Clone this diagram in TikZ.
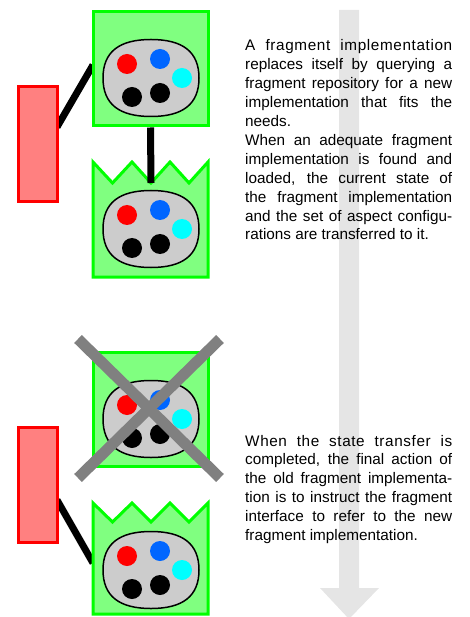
\documentclass[tikz,border=0pt]{standalone}
\usepackage{fontspec}
\setmainfont{Liberation Sans}
\newcommand\spreadline[1]{{\addfontfeature{LetterSpace=4}#1}}
\begin{document}
\begin{tikzpicture}[x=1pt,y=-1pt,
  fragbox/.style={draw=fgreen,fill=flgreen,line width=3pt},
  ifacebox/.style={draw=red,fill=fpink,line width=3pt},
  link/.style={line width=7pt,black},
  cross/.style={line width=11pt,draw=xgray},
  txt/.style={inner sep=0pt,anchor=base west,text width=207pt,align=justify,
    font=\fontsize{15.3}{18.9}\selectfont},
  dot/.style={circle,inner sep=0pt,minimum size=20pt,fill=#1},
  pics/core/.style={code={
    \draw[line width=1.5pt,fill=corefill] (0,-38.5) .. controls (32,-38.5) and (48,-26) .. (48,0)
      .. controls (48,26) and (32,38.5) .. (0,38.5)
      .. controls (-32,38.5) and (-48,26) .. (-48,0)
      .. controls (-48,-26) and (-32,-38.5) .. (0,-38.5) -- cycle;
    \coordinate (-c) at (0,0);
    \node[dot=red] (-r) at (-24,-14) {};
    \node[dot=fblue] (-b) at (9,-19) {};
    \node[dot=fcyan] (-y) at (31,0) {};
    \node[dot=black] (-k1) at (-19,19) {};
    \node[dot=black] (-k2) at (9,15) {};
  }}]
\definecolor{fgreen}{RGB}{0,255,0}
\definecolor{flgreen}{RGB}{128,255,128}
\definecolor{fpink}{RGB}{255,128,128}
\definecolor{corefill}{RGB}{204,204,204}
\definecolor{fblue}{RGB}{0,102,255}
\definecolor{fcyan}{RGB}{0,255,255}
\definecolor{xgray}{RGB}{128,128,128}
\definecolor{arrowgray}{RGB}{229,229,229}
\useasboundingbox (0,0) rectangle (469,617);

% big process arrow
\fill[arrowgray] (339,10) -- (359,10) -- (359,588) -- (379,588) -- (349,619)
  -- (320,588) -- (339,588) -- cycle;

% ---- top stage ----
\coordinate (l1a) at (57,127);
\coordinate (l1b) at (93,65);
\draw[link] (l1a) -- (l1b);
\node[ifacebox,minimum width=39pt,minimum height=115pt,inner sep=0pt] (if1) at (37.5,144.5) {};
\node[fragbox,minimum width=115pt,minimum height=114pt,inner sep=0pt] (old1) at (150.5,69) {};
\draw[fragbox] (93,162) -- (112.5,183) -- (132,162) -- (151,183) -- (170,162)
  -- (189,183) -- (208,162) -- (208,277) -- (93,277) -- cycle;
\coordinate (new1) at (151,183);
\draw[link] (old1.south) -- (new1);
\pic (c1) at (151,78) {core};
\pic (c2) at (151,229) {core};

% ---- bottom stage ----
\coordinate (l2a) at (57,500);
\coordinate (l2b) at (93,563);
\draw[link] (l2a) -- (l2b);
\node[ifacebox,minimum width=39pt,minimum height=115pt,inner sep=0pt] (if2) at (37.5,484.5) {};
\node[fragbox,minimum width=115pt,minimum height=114pt,inner sep=0pt] (old2) at (150.5,409) {};
\draw[fragbox] (93,503) -- (112.5,522) -- (132,503) -- (151,522) -- (170,503)
  -- (189,522) -- (208,503) -- (208,614) -- (93,614) -- cycle;
\pic (c3) at (151,419) {core};
\pic (c4) at (151,570) {core};
\coordinate (x1) at (78,339);
\coordinate (x2) at (220,478);
\coordinate (x3) at (220,339);
\coordinate (x4) at (78,478);
\draw[cross] (x1) -- (x2);
\draw[cross] (x3) -- (x4);

% ---- texts ----
\node[txt] (t1) at (245,51) {\spreadline{A fragment implementation}\linebreak
replaces itself by querying a\linebreak
fragment repository for a new\linebreak
implementation that fits the\linebreak
needs.\par
When an adequate fragment\linebreak
implementation is found and\linebreak
loaded, the current state of\linebreak
the fragment implementation\linebreak
and the set of aspect configu-\linebreak
rations are transferred to it.};
\node[txt] (t2) at (245,446) {\spreadline{When the state transfer is}\linebreak
completed, the final action of\linebreak
the old fragment implementa-\linebreak
tion is to instruct the fragment\linebreak
interface to refer to the new\linebreak
fragment implementation.};
\end{tikzpicture}
\end{document}
